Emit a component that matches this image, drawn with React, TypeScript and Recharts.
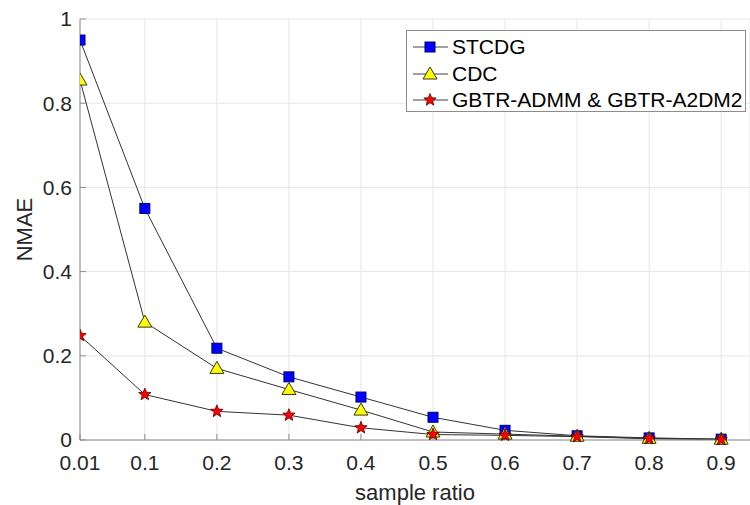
import React from 'react';
import { LineChart, Line, XAxis, YAxis, CartesianGrid, Legend } from 'recharts';

// sample ratios on the x axis (numeric, so 0.01 -> 0.1 is a shorter gap)
const ratios = [0.01, 0.1, 0.2, 0.3, 0.4, 0.5, 0.6, 0.7, 0.8, 0.9];

// NMAE values
const stcdg = [0.95, 0.55, 0.218, 0.15, 0.102, 0.054, 0.023, 0.01, 0.005, 0.002];
const cdc = [0.855, 0.28, 0.17, 0.12, 0.071, 0.019, 0.014, 0.009, 0.004, 0.002];
const gbtr = [0.248, 0.108, 0.068, 0.059, 0.029, 0.013, 0.011, 0.008, 0.003, 0.001];

const yTicks = [0, 0.2, 0.4, 0.6, 0.8, 1];

const FONT = '"Liberation Sans", Arial, Helvetica, sans-serif';
const TEXT = '#262626';
const AXIS = '#8c8c8c';

const data = ratios.map((r, i) => ({
  ratio: r,
  STCDG: stcdg[i],
  CDC: cdc[i],
  GBTR: gbtr[i],
}));

const Square = ({ cx, cy }: any) =>
  cx == null ? null : (
    <rect x={cx - 5} y={cy - 5} width={10} height={10} fill="#0000ff" stroke="#00006e" strokeWidth={1} />
  );

const Triangle = ({ cx, cy }: any) =>
  cx == null ? null : (
    <polygon
      points={`${cx},${cy - 7} ${cx - 7},${cy + 5} ${cx + 7},${cy + 5}`}
      fill="#ffff00"
      stroke="#3a3a10"
      strokeWidth={1}
    />
  );

const starPoints = (cx: number, cy: number, ro: number, ri: number) => {
  const pts: string[] = [];
  for (let k = 0; k < 10; k++) {
    const r = k % 2 === 0 ? ro : ri;
    const a = -Math.PI / 2 + (k * Math.PI) / 5;
    pts.push(`${cx + r * Math.cos(a)},${cy + r * Math.sin(a)}`);
  }
  return pts.join(' ');
};

const Star = ({ cx, cy }: any) =>
  cx == null ? null : (
    <polygon points={starPoints(cx, cy, 6.5, 2.8)} fill="#ff0000" stroke="#5a0000" strokeWidth={0.8} />
  );

const series = [
  { key: 'STCDG', name: 'STCDG', dot: Square },
  { key: 'CDC', name: 'CDC', dot: Triangle },
  { key: 'GBTR', name: 'GBTR-ADMM & GBTR-A2DM2', dot: Star },
];

const LegendBox = () => (
  <div
    style={{
      border: `1px solid ${AXIS}`,
      background: '#fff',
      width: 340,
      height: 82,
      boxSizing: 'border-box',
      paddingTop: 3,
      fontFamily: FONT,
      fontSize: 21,
      color: '#000',
    }}
  >
    {series.map((s) => {
      const Dot = s.dot;
      return (
        <div key={s.key} style={{ display: 'flex', alignItems: 'center', height: 26.5 }}>
          <svg width={45} height={20} style={{ flex: 'none' }}>
            <line x1={6} y1={10} x2={41} y2={10} stroke="#404040" strokeWidth={1} />
            <Dot cx={23} cy={10} />
          </svg>
          <span style={{ whiteSpace: 'nowrap' }}>{s.name}</span>
        </div>
      );
    })}
  </div>
);

const YLabel = ({ viewBox }: any) => {
  const x = viewBox.x + 24;
  const y = viewBox.y + viewBox.height / 2;
  return (
    <text
      x={x}
      y={y}
      transform={`rotate(-90, ${x}, ${y})`}
      textAnchor="middle"
      dominantBaseline="central"
      fill={TEXT}
      fontSize={22}
      fontFamily={FONT}
    >
      NMAE
    </text>
  );
};

const XLabel = ({ viewBox }: any) => (
  <text
    x={viewBox.x + viewBox.width / 2}
    y={viewBox.y + 52}
    textAnchor="middle"
    dominantBaseline="central"
    fill={TEXT}
    fontSize={22}
    fontFamily={FONT}
  >
    sample ratio
  </text>
);

export default function App() {
  const tickStyle = { fill: TEXT, fontSize: 21, fontFamily: FONT };
  return (
    <div style={{ position: 'absolute', left: 0, top: 0, width: 750, height: 505, background: '#fff' }}>
      <LineChart width={750} height={505} data={data} margin={{ top: 19, right: 0, bottom: 0, left: 0 }}>
        <CartesianGrid stroke="#e6e6e6" strokeWidth={1} />
        <XAxis
          dataKey="ratio"
          type="number"
          domain={[0.01, 0.94]}
          ticks={ratios}
          allowDataOverflow
          interval={0}
          height={65}
          stroke={AXIS}
          tickSize={-6}
          tickMargin={21}
          tick={tickStyle}
          label={<XLabel />}
        />
        <XAxis
          xAxisId="top"
          dataKey="ratio"
          type="number"
          orientation="top"
          domain={[0.01, 0.94]}
          ticks={ratios}
          allowDataOverflow
          height={0}
          stroke={AXIS}
          tickSize={-6}
          tick={false}
        />
        <YAxis
          domain={[0, 1]}
          ticks={yTicks}
          width={80}
          stroke={AXIS}
          tickSize={-6}
          tickMargin={14}
          tick={tickStyle}
          label={<YLabel />}
        />
        <Legend
          layout="vertical"
          verticalAlign="middle"
          align="center"
          wrapperStyle={{ top: 30, left: 406, width: 340 }}
          content={<LegendBox />}
        />
        {series.map((s) => (
          <Line
            key={s.key}
            dataKey={s.key}
            name={s.name}
            stroke="#333333"
            strokeWidth={1}
            dot={<s.dot />}
            activeDot={false}
            isAnimationActive={false}
          />
        ))}
      </LineChart>
    </div>
  );
}
